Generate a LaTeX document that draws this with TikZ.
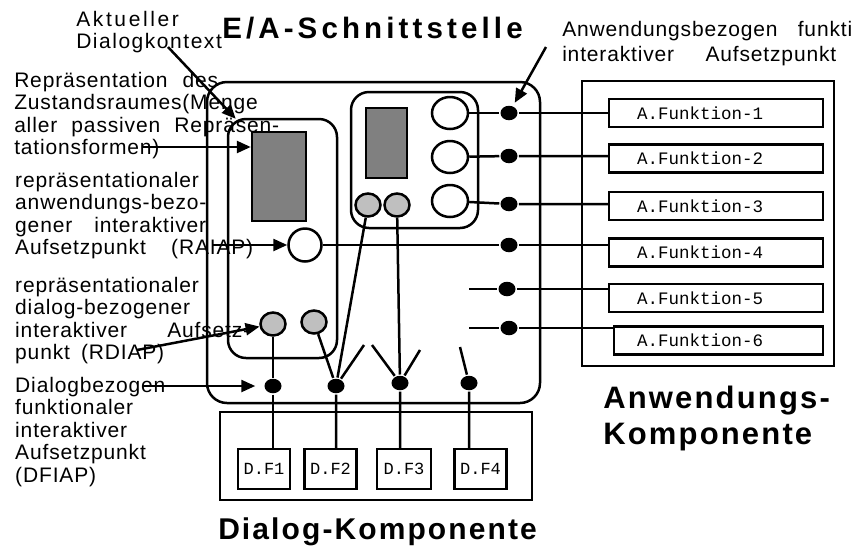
\documentclass[tikz,border=0pt]{standalone}
\usepackage{fontspec}
\setmainfont{Liberation Sans}
\newfontfamily\labelfont[LetterSpace=4]{Liberation Sans}
\newfontfamily\headfont[LetterSpace=7]{Liberation Sans}
\newfontfamily\titlefont[LetterSpace=14]{Liberation Sans}
\newfontfamily\codefont{Liberation Mono}
\usetikzlibrary{shapes,arrows.meta,positioning,calc}
\newcommand{\spread}[2]{\makebox[#1][s]{#2}}
\newcommand{\wide}[2]{{\addfontfeature{LetterSpace=#1}#2}}

\begin{document}
\begin{tikzpicture}[
    x=1pt, y=-1pt, line width=2.5pt,
    every node/.style={inner sep=0pt},
    frame/.style={rectangle, draw},
    panel/.style={rectangle, draw, rounded corners=20pt},
    screen/.style={rectangle, draw, fill=black!50},
    port/.style={ellipse, draw, fill=white, minimum width=36pt, minimum height=32pt},
    knob/.style={ellipse, draw, fill=black!25, minimum width=25pt, minimum height=23pt},
    dot/.style={ellipse, fill=black, minimum width=17pt, minimum height=14.5pt},
    afunc/.style={rectangle, draw, minimum height=28pt, inner xsep=28pt,
                  text width=158pt, align=left,
                  font=\codefont\fontsize{17.5}{20}\selectfont},
    dfunc/.style={rectangle, draw, minimum width=52pt, minimum height=40pt,
                  font=\codefont\fontsize{17}{20}\selectfont},
    note/.style={anchor=north west, align=left,
                 font=\labelfont\fontsize{21}{22.5}\selectfont},
    heading/.style={anchor=north west, align=left,
                    font=\headfont\bfseries\fontsize{31}{36}\selectfont},
    arrow/.style={-{Triangle[length=14pt, width=12pt]}}
]
    \useasboundingbox (0,0) rectangle (851,547);

    % Anwendungs-Komponente
    \node[frame, minimum width=252pt, minimum height=285pt] (appbox) at (708,223.5) {};
    \node[afunc] (af1) at (716,113) {A.Funktion-1};
    \node[afunc, below=15pt of af1] (af2) {A.Funktion-2};
    \node[afunc, below=17pt of af2] (af3) {A.Funktion-3};
    \node[afunc, below=16pt of af3] (af4) {A.Funktion-4};
    \node[afunc, below=15pt of af4] (af5) {A.Funktion-5};
    \node[afunc, below=12pt of af5, xshift=2.5pt, inner xsep=23pt, text width=163pt] (af6) {A.Funktion-6};
    \node[heading] (apptitle) at (602,385) {Anwendungs-\\Komponente};

    % E/A-Schnittstelle
    \node[panel, minimum width=333pt, minimum height=321pt] (eabox) at (373.5,242.5) {};
    \node[panel, rounded corners=18pt, minimum width=109pt, minimum height=239pt] (dlgctx) at (282.5,238.5) {};
    \node[panel, rounded corners=18pt, minimum width=127pt, minimum height=136pt] (appctx) at (414.5,160) {};
    \node[screen, minimum width=54pt, minimum height=89pt] (scr1) at (279,176.5) {};
    \node[screen, minimum width=41pt, minimum height=70pt] (scr2) at (386.5,143) {};
    \node[port] (c1) at (450,113) {};
    \node[port] (c2) at (450,157) {};
    \node[port] (c3) at (450,201) {};
    \node[port, minimum width=33pt, minimum height=33pt] (raiap) at (305,245) {};
    \node[knob] (rdiap1) at (273,324) {};
    \node[knob] (rdiap2) at (314,322) {};
    \node[knob] (k1) at (368,205) {};
    \node[knob] (k2) at (397,205) {};
    \node[anchor=north west, font=\titlefont\bfseries\fontsize{29.5}{32}\selectfont] (eatitle) at (221,16) {E/A-Schnittstelle};

    % Aufsetzpunkte
    \node[dot] (a1) at (509,113) {};
    \node[dot] (a2) at (509,156) {};
    \node[dot] (a3) at (509,204) {};
    \node[dot] (a4) at (509,245) {};
    \node[dot] (a5) at (507,289) {};
    \node[dot] (a6) at (509,328) {};
    \node[dot] (d1) at (273,386) {};
    \node[dot] (d2) at (336,386) {};
    \node[dot] (d3) at (400,383) {};
    \node[dot] (d4) at (469,383) {};

    % Dialog-Komponente
    \node[frame, minimum width=312pt, minimum height=88pt] (dlgbox) at (376,456) {};
    \node[dfunc] (df1) at (264,469) {D.F1};
    \node[dfunc, right=12pt of df1] (df2) {D.F2};
    \node[dfunc, right=18pt of df2, minimum width=54pt] (df3) {D.F3};
    \node[dfunc, right=21pt of df3] (df4) {D.F4};
    \node[heading, font=\headfont\bfseries\fontsize{30}{34}\selectfont] (dlgtitle) at (217,516) {Dialog-Komponente};

    % loose ends
    \coordinate (s5) at (469,289);
    \coordinate (s6) at (469,328);
    \coordinate (t2) at (364,345);
    \coordinate (t3a) at (372,345);
    \coordinate (t3b) at (420,350);
    \coordinate (t4) at (460,347);

    % connections to the application
    \draw (c1) -- (a1) -- (a1 -| af1.west);
    \draw (c2) -- (a2) -- (a2 -| af2.west);
    \draw (c3) -- (a3) -- (a3 -| af3.west);
    \draw (raiap) -- (a4) -- (a4 -| af4.west);
    \draw (s5) -- (a5) -- (a5 -| af5.west);
    \draw (s6) -- (a6) -- (a6 -| af6.west);

    % connections to the dialog
    \draw (rdiap1) -- (d1) -- (d1 |- df1.north);
    \draw (rdiap2) -- (d2);
    \draw (k1) -- (d2);
    \draw (t2) -- (d2) -- (d2 |- df2.north);
    \draw (t3a) -- (d3) -- (d3 |- df3.north);
    \draw (k2) -- (d3);
    \draw (t3b) -- (d3);
    \draw (t4) -- (d4) -- (d4 |- df4.north);

    % explanations
    \node[note] (ctxtext) at (75,10) {\wide{12.5}{Aktueller}\\\wide{7.3}{Dialogkontext}};
    \node[note] (reptext) at (13,71) {\spread{204pt}{Repräsentation des}\\Zustandsraumes(Menge\\\spread{265pt}{aller passiven Repräsen-}\\tationsformen)};
    \node[note] (raitext) at (14,171) {repräsentationaler\\anwendungs-bezo-\\\spread{191pt}{gener interaktiver}\\\spread{238pt}{Aufsetzpunkt (RAIAP)}};
    \node[note] (rditext) at (14,276) {repräsentationaler\\dialog-bezogener\\\spread{235pt}{interaktiver Aufsetz-}\\\spread{149pt}{punkt (RDIAP)}};
    \node[note] (dfitext) at (14,376) {Dialogbezogen\\funktionaler\\interaktiver\\Aufsetzpunkt\\(DFIAP)};
    \node[note, font=\labelfont\fontsize{21}{25}\selectfont] (anwtext) at (561,20) {\spread{290pt}{Anwendungsbezogen funkti}\\\spread{274pt}{interaktiver Aufsetzpunkt}};

    \coordinate (ctxfrom) at (168,47);
    \coordinate (repfrom) at (142,147);
    \coordinate (raifrom) at (213,245);
    \coordinate (rdifrom) at (137,350);
    \coordinate (dfifrom) at (143,386);
    \coordinate (anwfrom) at (546,47);
    \draw[arrow] (ctxfrom) -- ([shift={(9pt,-1pt)}]dlgctx.north west);
    \draw[arrow] (repfrom) -- (repfrom -| scr1.west);
    \draw[arrow] (raifrom) -- (raiap);
    \draw[arrow] (rdifrom) -- (rdiap1);
    \draw[arrow, shorten >=8pt] (dfifrom) -- (d1);
    \draw[arrow, shorten >=3pt] (anwfrom) -- (a1);
\end{tikzpicture}
\end{document}
